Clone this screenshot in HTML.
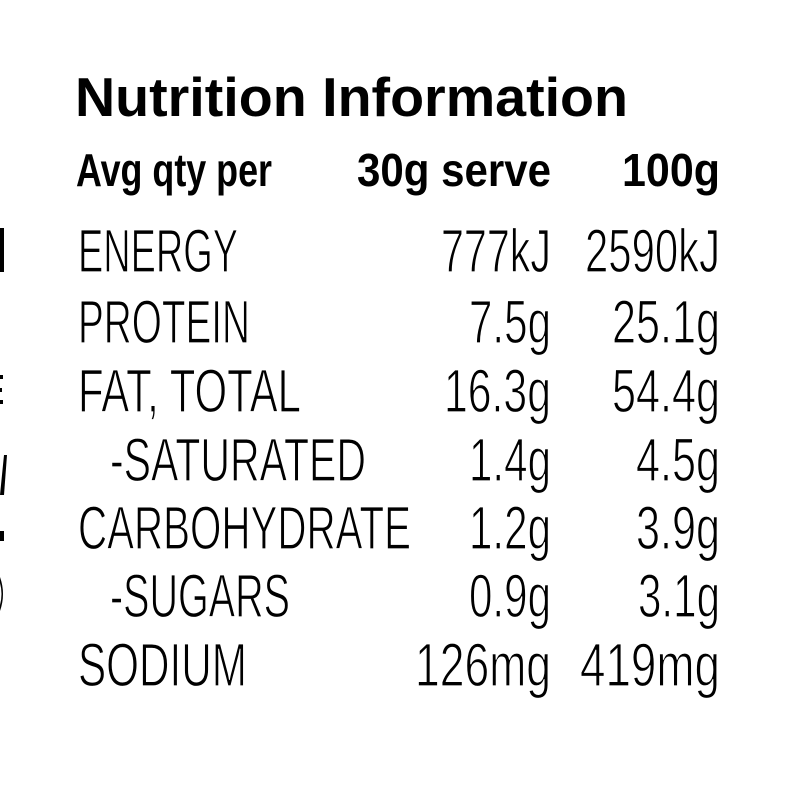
<!DOCTYPE html>
<html><head><style>html,body{margin:0;padding:0;background:#fff}svg{display:block}</style></head>
<body>
<svg width="800" height="800" xmlns="http://www.w3.org/2000/svg" font-family="Liberation Sans, sans-serif" fill="#000">
<rect x="0" y="228" width="4" height="44"/>
<rect x="0" y="375" width="3" height="4"/><rect x="0" y="388" width="2" height="4"/><rect x="0" y="400" width="3" height="4"/>
<path d="M0 495 L4 495 L7 455 L4 455 Z"/>
<rect x="0" y="531" width="4" height="10"/>
<path d="M0 577 Q6 594 0 611 L0 605 Q3 594 0 583 Z"/>
<text x="75" y="116" font-size="55" font-weight="bold" textLength="553" lengthAdjust="spacingAndGlyphs">Nutrition Information</text>
<g font-size="46" font-weight="bold">
<text x="76" y="186" textLength="196" lengthAdjust="spacingAndGlyphs">Avg qty per</text>
<text x="357" y="186" textLength="194" lengthAdjust="spacingAndGlyphs">30g serve</text>
<text x="622" y="186" textLength="98" lengthAdjust="spacingAndGlyphs">100g</text>
</g>
<g font-size="61" stroke="#fff" stroke-width="1.2">
<text x="78" y="272" textLength="160" lengthAdjust="spacingAndGlyphs">ENERGY</text>
<text x="441" y="272" textLength="110" lengthAdjust="spacingAndGlyphs">777kJ</text>
<text x="585" y="272" textLength="135" lengthAdjust="spacingAndGlyphs">2590kJ</text>
<text x="78" y="343" textLength="172" lengthAdjust="spacingAndGlyphs">PROTEIN</text>
<text x="469" y="343" textLength="82" lengthAdjust="spacingAndGlyphs">7.5g</text>
<text x="612" y="343" textLength="108" lengthAdjust="spacingAndGlyphs">25.1g</text>
<text x="78" y="412" textLength="223" lengthAdjust="spacingAndGlyphs">FAT, TOTAL</text>
<text x="444" y="412" textLength="107" lengthAdjust="spacingAndGlyphs">16.3g</text>
<text x="612" y="412" textLength="108" lengthAdjust="spacingAndGlyphs">54.4g</text>
<text x="110" y="481" textLength="256" lengthAdjust="spacingAndGlyphs">-SATURATED</text>
<text x="469" y="481" textLength="82" lengthAdjust="spacingAndGlyphs">1.4g</text>
<text x="636" y="481" textLength="84" lengthAdjust="spacingAndGlyphs">4.5g</text>
<text x="78" y="549" textLength="333" lengthAdjust="spacingAndGlyphs">CARBOHYDRATE</text>
<text x="469" y="549" textLength="82" lengthAdjust="spacingAndGlyphs">1.2g</text>
<text x="636" y="549" textLength="84" lengthAdjust="spacingAndGlyphs">3.9g</text>
<text x="110" y="617" textLength="180" lengthAdjust="spacingAndGlyphs">-SUGARS</text>
<text x="469" y="617" textLength="82" lengthAdjust="spacingAndGlyphs">0.9g</text>
<text x="638" y="617" textLength="82" lengthAdjust="spacingAndGlyphs">3.1g</text>
<text x="78" y="686" textLength="169" lengthAdjust="spacingAndGlyphs">SODIUM</text>
<text x="415" y="686" textLength="136" lengthAdjust="spacingAndGlyphs">126mg</text>
<text x="580" y="686" textLength="140" lengthAdjust="spacingAndGlyphs">419mg</text>
</g>
</svg>
</body></html>
